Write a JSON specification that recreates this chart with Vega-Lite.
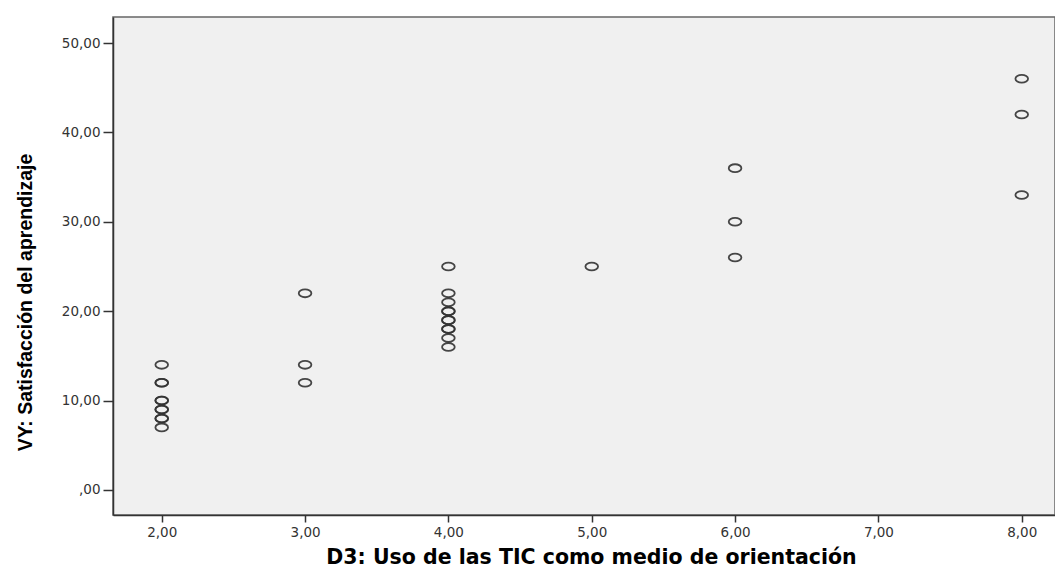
{
  "$schema": "https://vega.github.io/schema/vega-lite/v6.json",
  "autosize": "none",
  "padding": {"left": 113, "top": 17, "right": 0, "bottom": 52},
  "width": 942,
  "height": 498,
  "background": "white",
  "config": {
    "view": {"fill": "#f0f0f0", "stroke": "#666666", "strokeWidth": 1.5},
    "axis": {"grid": false, "domainColor": "#333333", "domainWidth": 1.5, "tickColor": "#333333", "tickWidth": 1.5, "labelFont": "DejaVu Sans", "labelFontSize": 13.5, "labelColor": "#333333"}
  },
  "data": {
    "values": [
      {"x": 2, "y": 14}, {"x": 2, "y": 12}, {"x": 2, "y": 12}, {"x": 2, "y": 10}, {"x": 2, "y": 10}, {"x": 2, "y": 9}, {"x": 2, "y": 9}, {"x": 2, "y": 8}, {"x": 2, "y": 8}, {"x": 2, "y": 7},
      {"x": 3, "y": 22}, {"x": 3, "y": 14}, {"x": 3, "y": 12},
      {"x": 4, "y": 25}, {"x": 4, "y": 22}, {"x": 4, "y": 21}, {"x": 4, "y": 20}, {"x": 4, "y": 20}, {"x": 4, "y": 19}, {"x": 4, "y": 19}, {"x": 4, "y": 18}, {"x": 4, "y": 18}, {"x": 4, "y": 17}, {"x": 4, "y": 16},
      {"x": 5, "y": 25},
      {"x": 6, "y": 36}, {"x": 6, "y": 30}, {"x": 6, "y": 26},
      {"x": 8, "y": 46}, {"x": 8, "y": 42}, {"x": 8, "y": 33}
    ]
  },
  "mark": {
    "type": "point",
    "shape": "M -1 0 A 1 0.62 0 1 0 1 0 A 1 0.62 0 1 0 -1 0 Z",
    "size": 160,
    "filled": false,
    "stroke": "#333333",
    "strokeWidth": 1.8,
    "opacity": 0.9
  },
  "encoding": {
    "x": {
      "field": "x", "type": "quantitative",
      "scale": {"domain": [1.66, 8.232], "nice": false, "zero": false},
      "axis": {
        "title": "D3: Uso de las TIC como medio de orientación",
        "values": [2, 3, 4, 5, 6, 7, 8],
        "labelExpr": "replace(format(datum.value, '.2f'), '.', ',')",
        "tickSize": 7, "labelPadding": 3,
        "titleFont": "DejaVu Sans", "titleFontWeight": "bold", "titleFontSize": 20.5, "titleColor": "#000000",
        "titleX": 478, "titleY": 48, "titleBaseline": "alphabetic", "titleAlign": "center"
      }
    },
    "y": {
      "field": "y", "type": "quantitative",
      "scale": {"domain": [-2.8, 52.91], "nice": false, "zero": false},
      "axis": {
        "title": "VY: Satisfacción del aprendizaje",
        "values": [0, 10, 20, 30, 40, 50],
        "labelExpr": "datum.value == 0 ? ',00' : replace(format(datum.value, '.2f'), '.', ',')",
        "tickSize": 10, "labelPadding": 3,
        "titleFont": "Liberation Sans", "titleFontWeight": "bold", "titleFontSize": 19.5, "titleColor": "#000000",
        "titleX": -88, "titleY": 285, "titleBaseline": "middle", "titleAlign": "center", "titleAngle": -90
      }
    }
  }
}
